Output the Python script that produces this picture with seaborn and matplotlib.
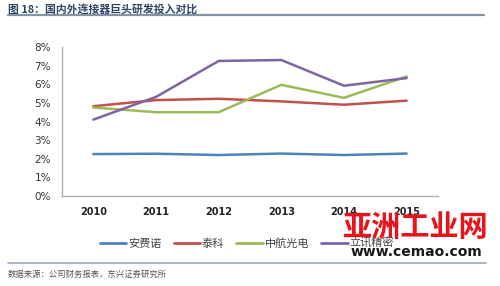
import matplotlib
matplotlib.use("Agg")
import matplotlib.pyplot as plt
import seaborn as sns
import pandas as pd
from matplotlib.lines import Line2D

years = ["2010", "2011", "2012", "2013", "2014", "2015"]
series_names = ["安费诺", "泰科", "中航光电", "立讯精密"]
amphenol = [2.25, 2.27, 2.2, 2.28, 2.2, 2.28]
te = [4.82, 5.15, 5.22, 5.08, 4.9, 5.12]
avic = [4.75, 4.5, 4.5, 5.97, 5.27, 6.42]
luxshare = [4.1, 5.32, 7.25, 7.3, 5.92, 6.33]
yticks = [0, 1, 2, 3, 4, 5, 6, 7, 8]
colors = ["#4F81BD", "#C0504D", "#9BBB59", "#8064A2"]

sns.set_style("white")
plt.rcParams['font.family'] = ['Noto Sans CJK SC', 'DejaVu Sans']

rows = []
for name, vals in zip(series_names, [amphenol, te, avic, luxshare]):
    for y, v in zip(years, vals):
        rows.append({"year": y, "value": v, "company": name})
df = pd.DataFrame(rows)

W, H = 500, 286
fig = plt.figure(figsize=(W / 100, H / 100), dpi=100)
fig.patch.set_facecolor("white")
ax = fig.add_axes([62 / W, 1 - 196 / H, (438 - 62) / W, (196 - 47) / H])

sns.lineplot(data=df, x="year", y="value", hue="company", hue_order=series_names,
             palette=colors, linewidth=1.8, ax=ax, legend=False, sort=False)

ax.set_xlim(-0.5, 5.5)
ax.set_ylim(0, 8)
ax.set_yticks(yticks)
ax.set_yticklabels([f"{t}%" for t in yticks], fontsize=7.5, color="#333333",
                   family=['DejaVu Sans'])
ax.set_xticks(range(len(years)))
ax.set_xticklabels(years, fontsize=7, color="#222222", fontweight="bold",
                   family=['DejaVu Sans'])
ax.tick_params(axis="y", length=0, pad=8)
ax.tick_params(axis="x", length=0, pad=8)
ax.set_xlabel("")
ax.set_ylabel("")
for s in ["top", "right"]:
    ax.spines[s].set_visible(False)
for s in ["left", "bottom"]:
    ax.spines[s].set_color("#B0B0B0")
    ax.spines[s].set_linewidth(1.0)

handles = [Line2D([0], [0], color=c, lw=2.0) for c in colors]
fig.legend(handles, series_names, loc="center", bbox_to_anchor=(247 / W, 1 - 243 / H),
           ncol=4, frameon=False, fontsize=8, handlelength=2.4, handletextpad=0.15,
           columnspacing=1.1, labelcolor="#444444")

# title and decorative rules
fig.text(8 / W, 1 - 9 / H, "图 18：国内外连接器巨头研发投入对比", fontsize=7.8,
         fontweight="bold", color="#2E4464", ha="left", va="center")
fig.add_artist(Line2D([8 / W, 484 / W], [1 - 15 / H, 1 - 15 / H], color="#8294A8",
                      lw=1.6, transform=fig.transFigure))
fig.add_artist(Line2D([8 / W, 486 / W], [1 - 263 / H, 1 - 263 / H], color="#9AA8B8",
                      lw=1.2, transform=fig.transFigure))
fig.text(8 / W, 1 - 274 / H, "数据来源：公司财务报表，东兴证券研究所", fontsize=6,
         style="italic", color="#555555", ha="left", va="center")

# watermark
fig.text(415 / W, 1 - 227 / H, "亚洲工业网", fontsize=21, fontweight="heavy",
         color="#E8141C", ha="center", va="center")
fig.text(416 / W, 1 - 252 / H, "www.cemao.com", fontsize=10, fontweight="bold",
         color="#1A1A1A", ha="center", va="center", family=['DejaVu Sans'])

fig.savefig("out.png", dpi=100, facecolor="white")
